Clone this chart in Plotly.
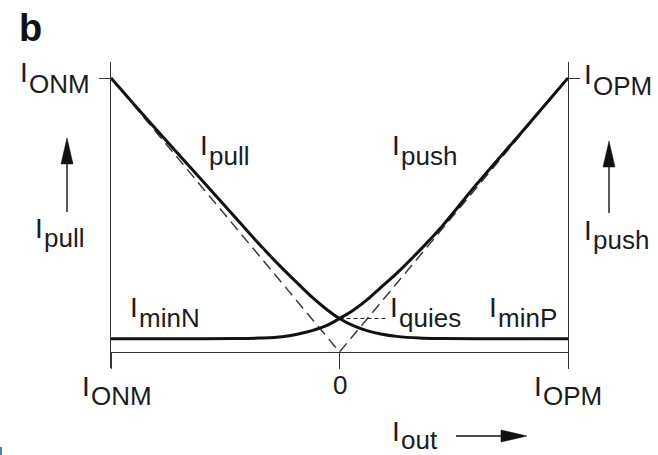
import plotly.graph_objects as go

# Normalised output current: IONM -> -1, IOPM -> +1
IOUT = [-1.0, -0.8, -0.6, -0.45, -0.35, -0.25, -0.18, -0.12, -0.06, 0.0,
        0.06, 0.12, 0.18, 0.25, 0.35, 0.45, 0.6, 0.8, 1.0]
# Pull (NMOS) and push (PMOS) currents, normalised to the maximum output current
I_PULL = [1.0, 0.81, 0.625, 0.485, 0.392, 0.305, 0.248, 0.2, 0.158, 0.122,
          0.096, 0.078, 0.066, 0.057, 0.051, 0.049, 0.048, 0.048, 0.048]
I_PUSH = [0.048, 0.048, 0.048, 0.049, 0.051, 0.056, 0.066, 0.078, 0.095, 0.122,
          0.152, 0.19, 0.235, 0.287, 0.37, 0.46, 0.612, 0.805, 1.0]
# Ideal class-B asymptotes
IDEAL_X = [-1.0, 0.0, 1.0]
IDEAL_Y = [1.0, 0.0, 1.0]
# Quiescent current marker
I_QUIES = 0.122
QUIES_X = [0.0, 0.21]
X_TICKS = [-1.0, 0.0, 1.0]
Y_TICKS = [1.0]

W, H = 658, 455
L, R, T, B = 111, 90, 62, 87
PW, PH = W - L - R, H - T - B

FONT = "Liberation Sans, Arial, sans-serif"
TEXT = "#1c1c1c"
AXIS = "#333333"
DESC = 0.212  # font descent as a fraction of the font size


def px_x(px):
    return (px - L) / PW


def px_y(py):
    return (H - B - py) / PH


fig = go.Figure()

fig.add_trace(go.Scatter(x=IDEAL_X, y=IDEAL_Y, mode="lines", cliponaxis=False,
                         line=dict(color="#3c3c3c", width=1.5, dash="11px,6px"),
                         hoverinfo="skip"))
fig.add_trace(go.Scatter(x=QUIES_X, y=[I_QUIES] * len(QUIES_X), mode="lines",
                         cliponaxis=False,
                         line=dict(color="#222222", width=1.1, dash="4px,3px"),
                         hoverinfo="skip"))
for ys in (I_PULL, I_PUSH):
    fig.add_trace(go.Scatter(x=IOUT, y=ys, mode="lines", cliponaxis=False,
                             line=dict(color="#111111", width=3, shape="spline"),
                             hoverinfo="skip"))

annotations = []


def text_at(txt, x, base, size, anchor="left", color=TEXT):
    annotations.append(dict(
        text=txt, xref="paper", yref="paper", showarrow=False,
        x=px_x(x), y=px_y(base + DESC * size),
        xanchor=anchor, yanchor="bottom", borderpad=0, borderwidth=0,
        font=dict(family=FONT, size=size, color=color)))


def label(sub, x_left, base_main, base_sub, size_main=28, size_sub=26):
    # current symbol "I" with a large, lowered subscript
    text_at("I", x_left - 2.6, base_main, size_main)
    text_at(sub, x_left + 5.5, base_sub, size_sub)


label("ONM", 23, 82, 93)
label("OPM", 587, 84, 95)
label("pull", 203, 155, 165)
label("push", 395, 155, 165)
label("minN", 133, 317, 327)
label("quies", 393, 317, 327)
label("minP", 492, 317, 327)
label("pull", 38, 238, 247)
label("push", 587, 240, 249)
label("ONM", 85, 396, 405)
label("OPM", 537, 396, 405)
label("out", 395, 441, 449)

text_at("0", 340, 394, 26, anchor="center")
text_at("<b>b</b>", 19.3, 41, 38, color="#111111")

shapes = []


def arrow(x0, y0, x1, y1, head=26, half=6):
    # shaft plus a slim filled head, all given in page pixels
    dx, dy = x1 - x0, y1 - y0
    n = (dx * dx + dy * dy) ** 0.5
    ux, uy = dx / n, dy / n
    bx, by = x1 - ux * head, y1 - uy * head
    shapes.append(dict(type="line", xref="paper", yref="paper",
                       x0=px_x(x0), y0=px_y(y0), x1=px_x(bx + ux * 2), y1=px_y(by + uy * 2),
                       line=dict(color="#111111", width=1.4)))
    pts = [(x1, y1), (bx - uy * half, by + ux * half), (bx + uy * half, by - ux * half)]
    path = "M " + " L ".join(f"{px_x(a):.5f},{px_y(b):.5f}" for a, b in pts) + " Z"
    shapes.append(dict(type="path", xref="paper", yref="paper", path=path,
                       fillcolor="#111111", line=dict(color="#111111", width=0.5)))


arrow(67, 212, 67, 138)
arrow(609, 213, 609, 141)
arrow(456, 436, 527, 436)

shapes.append(dict(type="rect", xref="paper", yref="paper",
                   x0=px_x(0), x1=px_x(2), y0=px_y(455), y1=px_y(447),
                   fillcolor="#4a7fc1", line=dict(width=0)))

fig.update_layout(
    width=W, height=H,
    margin=dict(l=L, r=R, t=T, b=B, pad=0),
    paper_bgcolor="white", plot_bgcolor="white",
    showlegend=False,
    annotations=annotations,
    shapes=shapes,
    xaxis=dict(range=[-1, 1], anchor="free", position=px_y(352),
               showline=True, linecolor=AXIS, linewidth=1.3,
               ticks="outside", tickvals=X_TICKS, ticklen=16, tickwidth=1.3,
               tickcolor=AXIS, showticklabels=False,
               showgrid=False, zeroline=False, fixedrange=True),
    yaxis=dict(range=[-16 / 274, 1 + 16 / 274],
               showline=True, mirror="ticks", linecolor=AXIS, linewidth=1.3,
               ticks="outside", tickvals=Y_TICKS, ticklen=11, tickwidth=1.3,
               tickcolor=AXIS, showticklabels=False,
               showgrid=False, zeroline=False, fixedrange=True),
)

fig.write_html("out.html", config={"displayModeBar": False})
